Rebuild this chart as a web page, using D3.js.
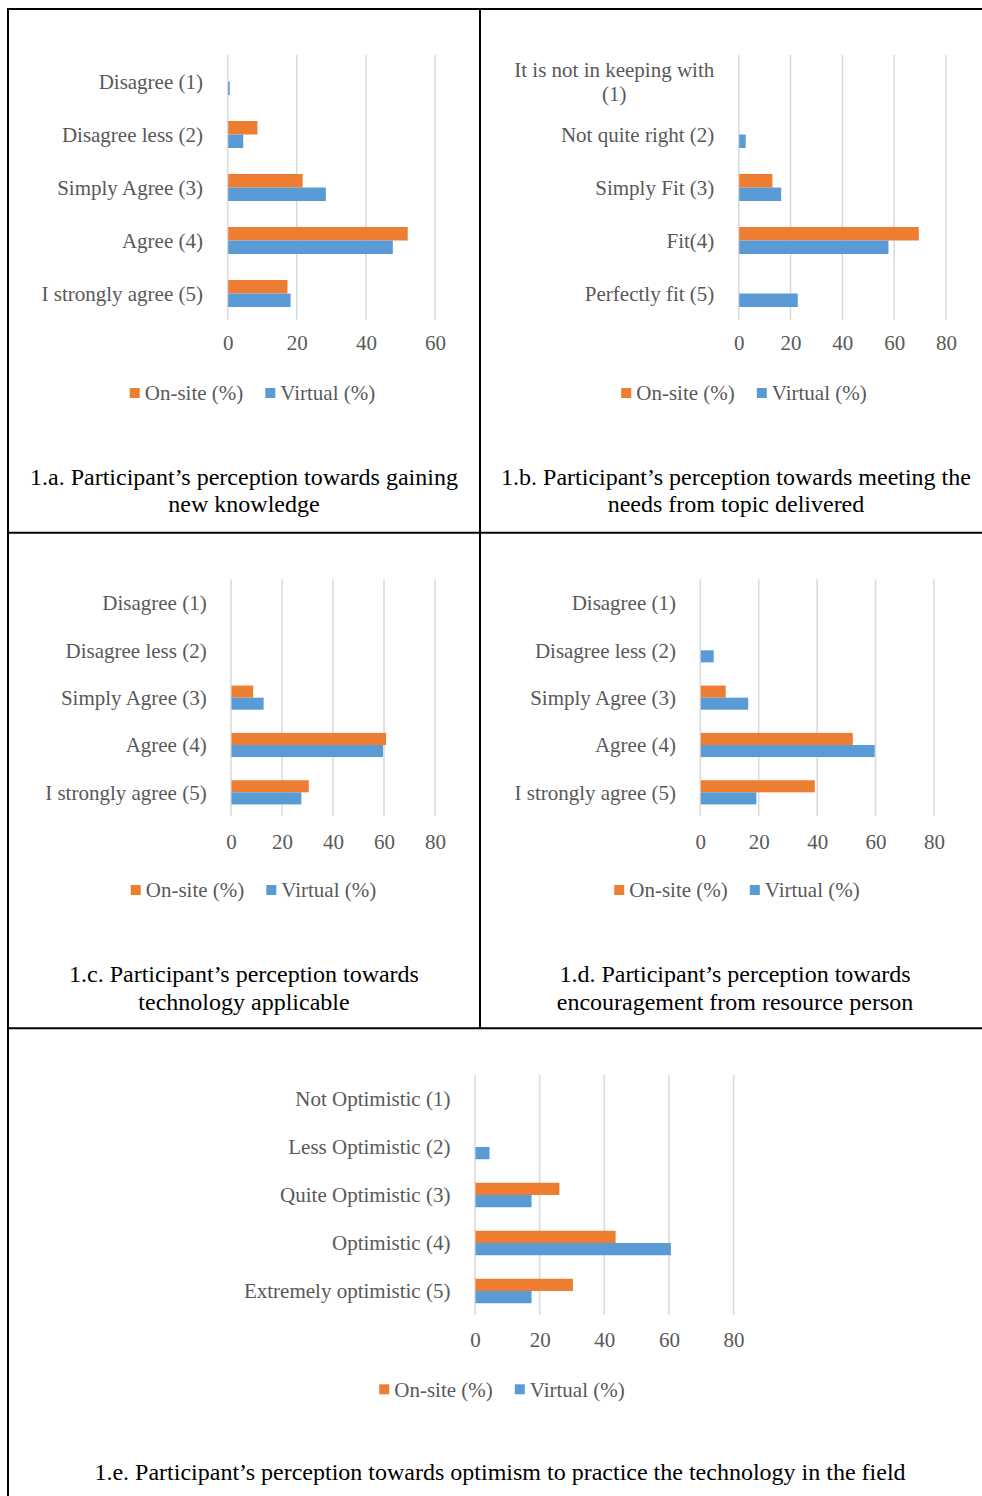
<!DOCTYPE html>
<html><head><meta charset="utf-8">
<script src="https://cdn.jsdelivr.net/npm/d3@7"></script>
<style>body{margin:0;background:#fff}svg{display:block}</style>
</head><body>
<script>
// ---------- data ----------
const seriesNames = ["On-site (%)", "Virtual (%)"];

const categoriesA = ["Disagree (1)", "Disagree less (2)", "Simply Agree (3)", "Agree (4)", "I strongly agree (5)"];
const onsiteA  = [0, 8.6, 21.7, 52.1, 17.3];
const virtualA = [0.6, 4.5, 28.4, 47.8, 18.2];
const ticksA = [0, 20, 40, 60];
const captionA = ["1.a. Participant’s perception towards gaining", "new knowledge"];

const categoriesB = ["It is not in keeping with (1)", "Not quite right (2)", "Simply Fit (3)", "Fit(4)", "Perfectly fit (5)"];
const onsiteB  = [0, 0, 13.0, 69.5, 0];
const virtualB = [0, 2.7, 16.4, 57.8, 22.8];
const ticksB = [0, 20, 40, 60, 80];
const captionB = ["1.b. Participant’s perception towards meeting the", "needs from topic delivered"];

const categoriesC = ["Disagree (1)", "Disagree less (2)", "Simply Agree (3)", "Agree (4)", "I strongly agree (5)"];
const onsiteC  = [0, 0, 8.7, 60.8, 30.5];
const virtualC = [0, 0, 12.8, 59.6, 27.6];
const ticksC = [0, 20, 40, 60, 80];
const captionC = ["1.c. Participant’s perception towards", "technology applicable"];

const categoriesD = ["Disagree (1)", "Disagree less (2)", "Simply Agree (3)", "Agree (4)", "I strongly agree (5)"];
const onsiteD  = [0, 0, 8.7, 52.2, 39.2];
const virtualD = [0, 4.6, 16.4, 59.7, 19.2];
const ticksD = [0, 20, 40, 60, 80];
const captionD = ["1.d. Participant’s perception towards", "encouragement from resource person"];

const categoriesE = ["Not Optimistic (1)", "Less Optimistic (2)", "Quite Optimistic (3)", "Optimistic (4)", "Extremely optimistic (5)"];
const onsiteE  = [0, 0, 26.1, 43.5, 30.3];
const virtualE = [0, 4.5, 17.5, 60.6, 17.5];
const ticksE = [0, 20, 40, 60, 80];
const captionE = ["1.e. Participant’s perception towards optimism to practice the technology in the field"];

// ---------- layout / style ----------
const W = 982, H = 1496;
const colors = ["#ED7D31", "#5B9BD5"];
const FONT = "'Liberation Serif','Times New Roman',serif";
const textGray = "#595959";
const gridColor = "#D9D9D9";
const fs = 21;
const capFs = 24;

const panels = [
  {cats: categoriesA, on: onsiteA, vi: virtualA, ticks: ticksA, cap: captionA,
   x0: 227.7, x1: 435, top: 55, bottom: 320, labelRight: 203, tickY: 343, legCx: 252.5, legY: 393, capX: 244, capY: [476.7, 504]},
  {cats: categoriesB, on: onsiteB, vi: virtualB, ticks: ticksB, cap: captionB,
   x0: 738.7, x1: 946, top: 55, bottom: 320, labelRight: 714.3, tickY: 343, legCx: 744, legY: 393, capX: 736, capY: [476.7, 504], wrap: 210},
  {cats: categoriesC, on: onsiteC, vi: virtualC, ticks: ticksC, cap: captionC,
   x0: 231, x1: 435, top: 579.3, bottom: 816, labelRight: 206.7, tickY: 841.7, legCx: 253.5, legY: 890, capX: 244, capY: [973.3, 1001.7]},
  {cats: categoriesD, on: onsiteD, vi: virtualD, ticks: ticksD, cap: captionD,
   x0: 700.3, x1: 934, top: 579.3, bottom: 816, labelRight: 676, tickY: 841.7, legCx: 737, legY: 890, capX: 735, capY: [973.3, 1001.7]},
  {cats: categoriesE, on: onsiteE, vi: virtualE, ticks: ticksE, cap: captionE,
   x0: 475, x1: 733.6, top: 1075, bottom: 1315, labelRight: 450.4, tickY: 1340, legCx: 502, legY: 1389.3, capX: 500, capY: [1471.7]}
];

const svg = d3.select("body").append("svg").attr("width", W).attr("height", H)
  .style("font-family", FONT);

svg.append("rect").attr("width", W).attr("height", H).attr("fill", "#fff");

// ---------- table borders ----------
const border = svg.append("g").attr("stroke", "#000").attr("stroke-width", 2).attr("fill", "none");
border.append("line").attr("x1", 7).attr("x2", W).attr("y1", 9).attr("y2", 9);
border.append("line").attr("x1", 7).attr("x2", W).attr("y1", 532.8).attr("y2", 532.8);
border.append("line").attr("x1", 7).attr("x2", W).attr("y1", 1028.3).attr("y2", 1028.3);
border.append("line").attr("x1", 8).attr("x2", 8).attr("y1", 8).attr("y2", H);
border.append("line").attr("x1", 480).attr("x2", 480).attr("y1", 8).attr("y2", 1029);

// ---------- panels ----------
panels.forEach(p => {
  const g = svg.append("g");
  const xMax = p.ticks[p.ticks.length - 1];
  const x = d3.scaleLinear().domain([0, xMax]).range([p.x0, p.x1]);
  const y = d3.scaleBand().domain(p.cats).range([p.top, p.bottom])
    .paddingInner(0.49).paddingOuter(0.245);
  const ySub = d3.scaleBand().domain([0, 1]).range([0, y.bandwidth()]);

  // gridlines
  g.append("g").selectAll("line").data(p.ticks).join("line")
    .attr("x1", d => x(d)).attr("x2", d => x(d))
    .attr("y1", p.top).attr("y2", p.bottom)
    .attr("stroke", gridColor).attr("stroke-width", 1.5);

  // tick labels via axis
  const ax = g.append("g").attr("transform", `translate(0,${p.tickY})`)
    .call(d3.axisBottom(x).tickValues(p.ticks).tickSize(0).tickPadding(0));
  ax.select(".domain").remove();
  ax.selectAll("text").attr("font-size", fs).attr("fill", textGray)
    .attr("font-family", FONT).attr("dy", "0.35em").attr("y", 0);

  // bars
  const rows = p.cats.map((c, i) => ({c, vals: [p.on[i], p.vi[i]]}));
  const rg = g.append("g").selectAll("g").data(rows).join("g")
    .attr("transform", d => `translate(0,${y(d.c)})`);
  rg.selectAll("rect").data(d => d.vals.map((v, k) => ({v, k}))).join("rect")
    .attr("x", x(0) + 0.5)
    .attr("y", d => ySub(d.k))
    .attr("width", d => Math.max(0, x(d.v) - x(0) - 0.5))
    .attr("height", ySub.bandwidth())
    .attr("fill", d => colors[d.k]);

  // category labels
  p.cats.forEach(c => {
    const cy = y(c) + y.bandwidth() / 2;
    const t = g.append("text").attr("font-size", fs).attr("fill", textGray)
      .attr("text-anchor", "end").attr("x", p.labelRight).attr("y", cy).attr("dy", "0.35em").text(c);
    if (p.wrap && t.node().getComputedTextLength() > p.wrap) {
      const words = c.split(" ");
      const lines = [];
      let cur = [];
      words.forEach(w => {
        cur.push(w);
        t.text(cur.join(" "));
        if (t.node().getComputedTextLength() > p.wrap && cur.length > 1) {
          cur.pop(); lines.push(cur.join(" ")); cur = [w];
        }
      });
      lines.push(cur.join(" "));
      t.text(lines[0]);
      const wmax = t.node().getComputedTextLength();
      const lh = 24.5;
      t.text(null).attr("text-anchor", "middle");
      lines.forEach((ln, i) => {
        t.append("tspan").attr("x", p.labelRight - wmax / 2)
          .attr("y", cy - (lines.length - 1) * lh / 2 + i * lh)
          .attr("dy", "0.35em").text(ln);
      });
    }
  });

  // legend
  const lg = g.append("g");
  let cx = 0;
  seriesNames.forEach((s, k) => {
    const it = lg.append("g");
    it.append("rect").attr("width", 10).attr("height", 10).attr("y", -5).attr("fill", colors[k]);
    const tt = it.append("text").attr("x", 15).attr("dy", "0.35em").attr("font-size", fs)
      .attr("fill", textGray).text(s);
    const w = 15 + tt.node().getComputedTextLength();
    it.attr("transform", `translate(${cx},0)`);
    cx += w + 22;
  });
  const total = cx - 22;
  lg.attr("transform", `translate(${p.legCx - total / 2},${p.legY})`);

  // caption
  p.cap.forEach((ln, i) => {
    g.append("text").attr("x", p.capX).attr("y", p.capY[i]).attr("dy", "0.35em")
      .attr("text-anchor", "middle").attr("font-size", capFs).attr("fill", "#000").text(ln);
  });
});
</script>
</body></html>
